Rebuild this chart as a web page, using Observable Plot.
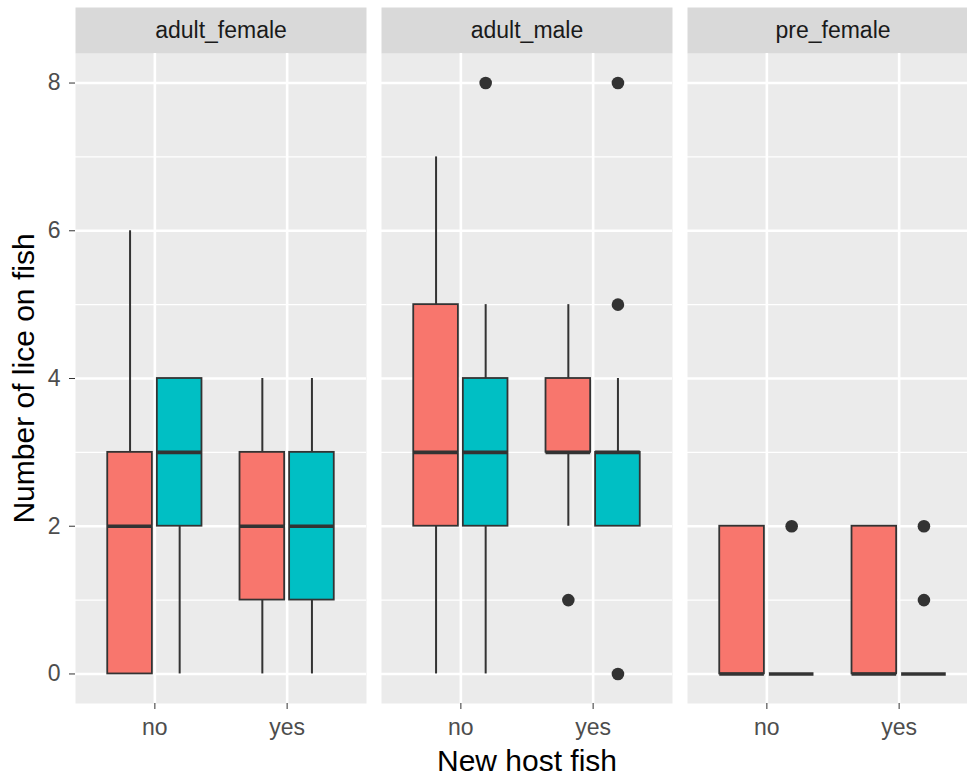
<!DOCTYPE html>
<html>
<head>
<meta charset="utf-8">
<script src="https://cdn.jsdelivr.net/npm/d3@7"></script>
<script src="https://cdn.jsdelivr.net/npm/@observablehq/plot@0.6"></script>
<style>
  html, body { margin: 0; padding: 0; background: #ffffff; }
  #chart { width: 967px; height: 776px; overflow: hidden; }
  #chart svg { max-width: none !important; }
</style>
</head>
<body>
<div id="chart"></div>
<script>
// Facets, x categories and fill groups
const stages = ["adult_female", "adult_male", "pre_female"];
const hosts = ["no", "yes"];
const groups = ["group1", "group2"];
const fillColors = ["#F8766D", "#00BFC4"];

// y axis ticks
const majorY = [0, 2, 4, 6, 8];
const minorY = [1, 3, 5, 7];

// Box summaries (one entry per box)
const boxStage = ["adult_female", "adult_female", "adult_female", "adult_female",
                  "adult_male", "adult_male", "adult_male", "adult_male",
                  "pre_female", "pre_female", "pre_female", "pre_female"];
const boxHost  = ["no", "no", "yes", "yes", "no", "no", "yes", "yes", "no", "no", "yes", "yes"];
const boxGroup = ["group1", "group2", "group1", "group2", "group1", "group2",
                  "group1", "group2", "group1", "group2", "group1", "group2"];
const whiskerLow  = [0, 0, 0, 0,  0, 0, 2, 2,  0, 0, 0, 0];
const q1          = [0, 2, 1, 1,  2, 2, 3, 2,  0, 0, 0, 0];
const median      = [2, 3, 2, 2,  3, 3, 3, 3,  0, 0, 0, 0];
const q3          = [3, 4, 3, 3,  5, 4, 4, 3,  2, 0, 2, 0];
const whiskerHigh = [6, 4, 4, 4,  7, 5, 5, 4,  2, 0, 2, 0];

// Outliers
const outStage = ["adult_male", "adult_male", "adult_male", "adult_male", "adult_male",
                  "pre_female", "pre_female", "pre_female"];
const outHost  = ["no", "yes", "yes", "yes", "yes", "no", "yes", "yes"];
const outGroup = ["group2", "group1", "group2", "group2", "group2", "group2", "group2", "group2"];
const outValue = [8, 1, 8, 5, 0, 2, 2, 1];

// dodge layout (ggplot defaults: dodge width 0.75, box width 0.9 of slot)
const dodge = 0.75;
const half = dodge / 4 * 0.9;
const center = (host, group) =>
  hosts.indexOf(host) + 1 + (groups.indexOf(group) - 0.5) * dodge / 2;

const boxes = boxStage.map((s, i) => ({
  stage: s, host: boxHost[i], group: boxGroup[i],
  lo: whiskerLow[i], q1: q1[i], med: median[i], q3: q3[i], hi: whiskerHigh[i],
  cx: center(boxHost[i], boxGroup[i])
}));
const outliers = outStage.map((s, i) => ({
  stage: s, value: outValue[i], cx: center(outHost[i], outGroup[i])
}));
const hostPos = hosts.map((h, i) => i + 1);

const dark = "#333333";

const chart = Plot.plot({
  width: 978,
  height: 776,
  marginLeft: 75,
  marginRight: 0,
  marginTop: 53,
  marginBottom: 73,
  style: {
    fontFamily: "'Liberation Sans', Arial, sans-serif",
    fontSize: "23px",
    background: "#ffffff",
    color: "#4D4D4D",
    maxWidth: "none"
  },
  fx: { domain: stages, paddingInner: 15 / 306, paddingOuter: 0, axis: null, label: null },
  x: { domain: [0.4, 2.6], axis: null },
  y: { domain: [-0.4, 8.4], axis: null },
  color: { domain: groups, range: fillColors },
  marks: [
    Plot.frame({ fill: "#EBEBEB" }),
    Plot.frame({ fill: "#D9D9D9", insetTop: -46, insetBottom: 650 }),
    Plot.ruleY(minorY, { stroke: "#ffffff", strokeWidth: 1.3 }),
    Plot.ruleY(majorY, { stroke: "#ffffff", strokeWidth: 2.6 }),
    Plot.ruleX(hostPos, { stroke: "#ffffff", strokeWidth: 2.6 }),
    // strip labels
    Plot.text(stages, {
      fx: d => d, text: d => d, frameAnchor: "top", dy: -23,
      lineAnchor: "middle", fontSize: 23, fill: "#1A1A1A"
    }),
    // axes
    Plot.axisY({
      ticks: majorY, tickSize: 6, tickPadding: 9, label: null,
      facetAnchor: "left", stroke: dark, fill: "#4D4D4D", fontSize: 23
    }),
    Plot.axisX({
      ticks: hostPos, tickFormat: d => hosts[d - 1], tickSize: 6, tickPadding: 9,
      label: null, stroke: dark, fill: "#4D4D4D", fontSize: 23
    }),
    // axis titles
    Plot.text([stages[0]], {
      fx: d => d, text: () => "Number of lice on fish", frameAnchor: "left",
      rotate: -90, dx: -51, textAnchor: "middle", lineAnchor: "middle",
      fontSize: 30, fill: "#000000"
    }),
    Plot.text([stages[1]], {
      fx: d => d, text: () => "New host fish", frameAnchor: "bottom",
      dy: 58, textAnchor: "middle", lineAnchor: "middle",
      fontSize: 30, fill: "#000000"
    }),
    // whiskers
    Plot.ruleX(boxes, { fx: "stage", x: "cx", y1: "q3", y2: "hi", stroke: dark, strokeWidth: 2 }),
    Plot.ruleX(boxes, { fx: "stage", x: "cx", y1: "lo", y2: "q1", stroke: dark, strokeWidth: 2 }),
    // boxes
    Plot.rect(boxes, {
      fx: "stage", x1: d => d.cx - half, x2: d => d.cx + half,
      y1: "q1", y2: "q3", fill: "group", stroke: dark, strokeWidth: 1.8
    }),
    // medians
    Plot.ruleY(boxes, {
      fx: "stage", x1: d => d.cx - half, x2: d => d.cx + half,
      y: "med", stroke: dark, strokeWidth: 3.6
    }),
    // outliers
    Plot.dot(outliers, { fx: "stage", x: "cx", y: "value", r: 6.3, fill: dark, stroke: "none" })
  ]
});

chart.style.maxWidth = "none";
document.getElementById("chart").appendChild(chart);
</script>
</body>
</html>
